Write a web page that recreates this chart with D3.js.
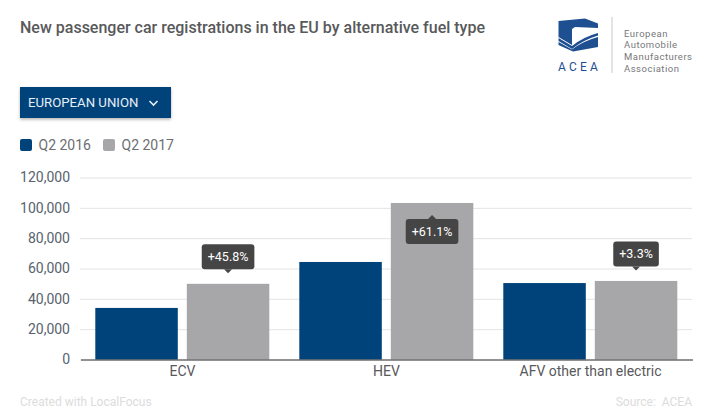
<!DOCTYPE html>
<html>
<head>
<meta charset="utf-8">
<script src="https://cdn.jsdelivr.net/npm/d3@7"></script>
<style>
  html, body { margin: 0; padding: 0; background: #fff; overflow: hidden; }
  text { font-family: Roboto, sans-serif; }
</style>
</head>
<body>
<svg id="graf" width="704" height="409"></svg>
<script>
// datos
const categorias = ["ECV", "HEV", "AFV other than electric"];
const series = ["Q2 2016", "Q2 2017"];
const valores2016 = [34000, 64300, 50400];
const valores2017 = [49900, 103200, 51800];
const variaciones = ["+45.8%", "+61.1%", "+3.3%"];
const ticksY = [0, 20000, 40000, 60000, 80000, 100000, 120000];
const colores = ["#00437a", "#a7a7aa"];

const svg = d3.select("#graf");

// filtro para la sombra del boton
const filtro = svg.append("defs").append("filter").attr("id", "sombra")
  .attr("x", "-5%").attr("y", "-20%").attr("width", "110%").attr("height", "150%");
filtro.append("feDropShadow").attr("dx", 0).attr("dy", 1.5).attr("stdDeviation", 1.5)
  .attr("flood-color", "#000").attr("flood-opacity", 0.3);

// titulo
svg.append("text").attr("x", 20).attr("y", 33)
  .attr("font-size", 16).attr("font-weight", 500).attr("fill", "#58595b")
  .text("New passenger car registrations in the EU by alternative fuel type");

// logo
const logo = svg.append("g");
logo.append("path").attr("fill", "#1d4f91")
  .attr("d", "M558.5 21 L585 18.5 L598 23.5 L598 28 L575 27 L572 29 L572 45 L558.5 37 Z");
logo.append("path").attr("fill", "#1d4f91")
  .attr("d", "M558.5 38 L572 46 Q583 37 598 33 L598 35.5 Q583 40 572 49 L558.5 41 Z");
logo.append("path").attr("fill", "#1d4f91")
  .attr("d", "M558.5 42 L572 49.5 Q583 41 598 37 L598 47 L573 51.5 L558.5 45 Z");
logo.append("text").attr("x", 558).attr("y", 71).attr("font-size", 12).attr("fill", "#1d4f91")
  .attr("letter-spacing", "3.2px").text("ACEA");
logo.append("line").attr("x1", 612).attr("x2", 612).attr("y1", 17).attr("y2", 73)
  .attr("stroke", "#c9c9c9").attr("stroke-width", 1);
logo.selectAll("text.nombre")
  .data(["European", "Automobile", "Manufacturers", "Association"])
  .enter().append("text").attr("class", "nombre")
  .attr("x", 624).attr("y", (d, i) => 36.5 + i * 11.8)
  .attr("font-size", 9.5).attr("letter-spacing", "0.5px").attr("fill", "#77787b")
  .text(d => d);

// boton
svg.append("rect").attr("x", 20).attr("y", 87).attr("width", 151).attr("height", 31)
  .attr("fill", "#00437a").attr("filter", "url(#sombra)");
svg.append("text").attr("x", 28).attr("y", 107).attr("font-size", 13.2)
  .attr("fill", "#e6f0f7").text("EUROPEAN UNION");
svg.append("path").attr("d", "M149.5 101 L153.5 105 L157.5 101")
  .attr("fill", "none").attr("stroke", "#e6f0f7").attr("stroke-width", 1.6);

// leyenda
const xLeyenda = [20, 103];
const leyenda = svg.selectAll("g.leyenda").data(series).enter().append("g")
  .attr("class", "leyenda")
  .attr("transform", (d, i) => `translate(${xLeyenda[i]}, 139)`);
leyenda.append("rect").attr("width", 12).attr("height", 12).attr("rx", 2)
  .attr("fill", (d, i) => colores[i]);
leyenda.append("text").attr("x", 18.5).attr("y", 10.5).attr("font-size", 14)
  .attr("fill", "#6d6e71").text(d => d);

// escalas
const y = d3.scaleLinear().domain([0, 120000]).range([359.5, 177.5]);
const x = d3.scaleBand().domain(categorias).range([80, 692]);
const xSerie = d3.scaleBand().domain(series).range([15.3, 189.3]).paddingInner(0.0985);

// eje y
const ejeY = d3.axisLeft(y).tickValues(ticksY).tickSize(-612).tickPadding(10)
  .tickFormat(d3.format(","));
const gy = svg.append("g").attr("transform", "translate(80, 0)").call(ejeY);
gy.select(".domain").remove();
gy.selectAll(".tick line").attr("stroke", "#e4e4e4");
gy.selectAll(".tick text").attr("font-size", 14).attr("fill", "#58636e");

// barras
const filas = categorias.map((c, i) => ({ c, i, v: [valores2016[i], valores2017[i]] }));
const grupos = svg.selectAll("g.cat").data(filas).enter().append("g")
  .attr("class", "cat").attr("transform", d => `translate(${x(d.c)}, 0)`);
grupos.selectAll("rect").data(d => d.v).enter().append("rect")
  .attr("x", (d, i) => xSerie(series[i]))
  .attr("width", xSerie.bandwidth())
  .attr("y", d => y(d))
  .attr("height", d => y(0) - y(d))
  .attr("fill", (d, i) => colores[i]);

// eje x
const ejeX = d3.axisBottom(x).tickSize(0).tickPadding(7);
const gx = svg.append("g").attr("transform", "translate(0.5, 359.5)").call(ejeX);
gx.select(".domain").attr("stroke", "#333");
gx.selectAll(".tick text").attr("font-size", 14).attr("fill", "#58595b");

// etiquetas de variacion
const altoEtq = 25;
grupos.each(function(d) {
  const cx = xSerie(series[1]) + xSerie.bandwidth() / 2;
  const topeBarra = y(d.v[1]);
  const dentro = d.i === 1; // la etiqueta de HEV cae dentro de la barra
  const top = dentro ? topeBarra + 16 : topeBarra - 39.5;
  const g = d3.select(this).append("g").attr("transform", `translate(${cx}, ${top})`);
  const fondo = g.append("rect").attr("height", altoEtq).attr("rx", 3).attr("fill", "#454545");
  const punta = dentro ? "M-4 0 L0 -4 L4 0 Z" : `M-4 ${altoEtq} L0 ${altoEtq + 4} L4 ${altoEtq} Z`;
  g.append("path").attr("d", punta).attr("fill", "#454545");
  const texto = g.append("text").attr("y", 17).attr("text-anchor", "middle").attr("font-size", 12.5)
    .attr("fill", "#fff").text(variaciones[d.i]);
  // el ancho de la caja depende del texto
  const ancho = texto.node().getComputedTextLength() + 12;
  fondo.attr("x", -ancho / 2).attr("width", ancho);
});

// pie
svg.append("text").attr("x", 20).attr("y", 406).attr("font-size", 12)
  .attr("fill", "#dcdcdc").text("Created with LocalFocus");
svg.append("text").attr("x", 692).attr("y", 406).attr("text-anchor", "end")
  .attr("font-size", 12).attr("fill", "#dcdcdc").attr("xml:space", "preserve").text("Source:  ACEA");
</script>
</body>
</html>
